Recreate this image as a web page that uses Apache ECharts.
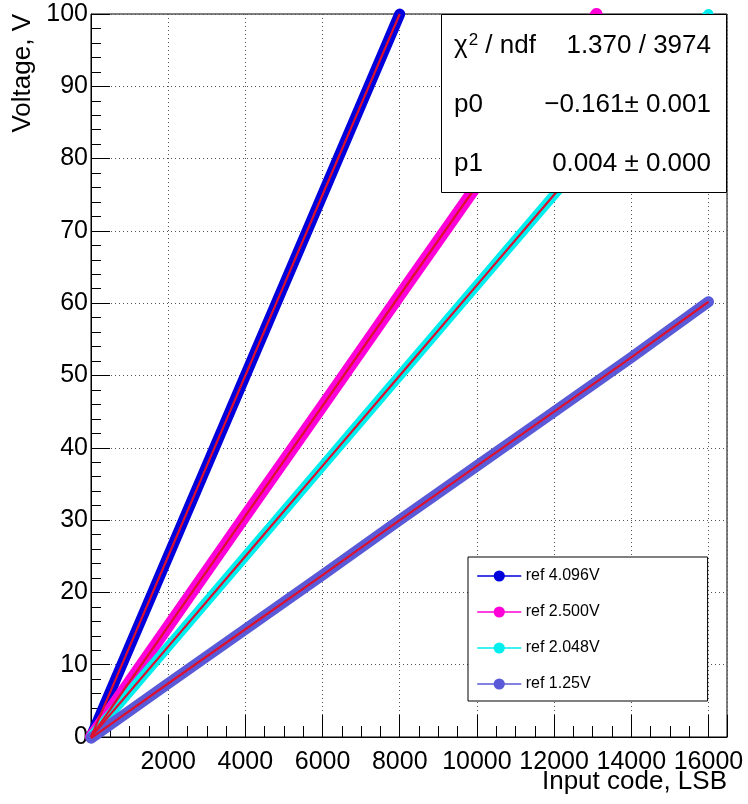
<!DOCTYPE html>
<html>
<head>
<meta charset="utf-8">
<script src="https://cdn.jsdelivr.net/npm/echarts@6/dist/echarts.min.js"></script>
<style>html,body{margin:0;padding:0;background:#fff;}#c{width:748px;height:804px;}</style>
</head>
<body>
<div id="c"></div>
<script>
// ---- data ----
const seriesNames = ['ref 4.096V', 'ref 2.500V', 'ref 2.048V', 'ref 1.25V'];
const codes4096 = [0, 1000, 2000, 3000, 4000, 5000, 6000, 7000, 8000];
const volts4096 = [0.0, 12.5, 25.0, 37.5, 50.0, 62.5, 75.0, 87.5, 100.0];
const codes2500 = [0, 2000, 4000, 6000, 8000, 10000, 12000, 13100];
const volts2500 = [0.0, 15.3, 30.6, 45.8, 61.1, 76.3, 91.6, 100.0];
const codes2048 = [0, 2000, 4000, 6000, 8000, 10000, 12000, 14000, 16000];
const volts2048 = [0.0, 12.5, 25.0, 37.5, 50.0, 62.5, 75.0, 87.5, 100.0];
const codes125 = [0, 2000, 4000, 6000, 8000, 10000, 12000, 14000, 16000];
const volts125 = [-0.16, 7.4, 14.9, 22.4, 30.0, 37.5, 45.0, 52.5, 60.2];
const xTickLabels = ['2000', '4000', '6000', '8000', '10000', '12000', '14000', '16000'];
const yTickLabels = ['0', '10', '20', '30', '40', '50', '60', '70', '80', '90', '100'];
const statLabels = ['{a|\u03c7}{b|2}{a| / ndf}', '{a|p0}', '{a|p1}'];
const statValues = ['1.370 / 3974', '\u22120.161\u00b1 0.001', '0.004 \u00b1 0.000'];
const xTitle = 'Input code, LSB';
const yTitle = 'Voltage, V';

const colors = ['#0000dd', '#ff00d8', '#00eeee', '#5a5ad8'];
const fitColor = '#dd1030';
const FONT = '"Liberation Sans", Arial, sans-serif';

const pairs = (xs, ys) => xs.map((x, i) => [x, ys[i]]);
const allData = [
  pairs(codes4096, volts4096),
  pairs(codes2500, volts2500),
  pairs(codes2048, volts2048),
  pairs(codes125, volts125)
];
const bandWidths = [11, 12, 10, 11];

const series = [];
allData.forEach((d, i) => {
  series.push({
    name: seriesNames[i], type: 'line', data: d, xAxisIndex: 0, yAxisIndex: 0,
    symbol: 'circle', symbolSize: 11, showSymbol: false, clip: false,
    lineStyle: { color: colors[i], width: bandWidths[i], cap: 'round', join: 'round' },
    itemStyle: { color: colors[i] }, z: 2 + i * 0.01, silent: true, animation: false
  });
});
allData.forEach((d, i) => {
  series.push({
    name: 'fit' + i, type: 'line', data: d, xAxisIndex: 0, yAxisIndex: 0,
    symbol: 'none', clip: false,
    lineStyle: { color: fitColor, width: 2.2 }, z: 3, silent: true, animation: false
  });
});

const chart = echarts.init(document.getElementById('c'), null, { renderer: 'canvas' });
const XMAX = 16480;
chart.setOption({
  animation: false,
  backgroundColor: '#fff',
  textStyle: { fontFamily: FONT },
  grid: { left: 91, right: 21, top: 14, bottom: 67, show: true, borderColor: '#000', borderWidth: 1, backgroundColor: 'transparent' },
  xAxis: [{
    type: 'value', min: 0, max: XMAX, interval: 2000, position: 'bottom',
    axisLine: { show: true, lineStyle: { color: '#000', width: 1 } },
    axisTick: { show: true, inside: true, length: 22, lineStyle: { color: '#000', width: 1 } },
    axisLabel: {
      show: true, margin: 13, fontSize: 25, color: '#000', fontFamily: FONT,
      formatter: v => { const s = String(v); return xTickLabels.indexOf(s) >= 0 ? s : ''; }
    },
    splitLine: { show: true, lineStyle: { color: '#555', type: [1, 3], width: 1 } }
  }, {
    type: 'value', min: 0, max: XMAX, interval: 500, position: 'bottom', gridIndex: 0,
    axisLine: { show: false }, axisLabel: { show: false }, splitLine: { show: false },
    axisTick: { show: true, inside: true, length: 11, lineStyle: { color: '#000', width: 1 } }
  }],
  yAxis: [{
    type: 'value', min: 0, max: 100, interval: 10,
    axisLine: { show: true, lineStyle: { color: '#000', width: 1 } },
    axisTick: { show: true, inside: true, length: 19, lineStyle: { color: '#000', width: 1 } },
    minorTick: { show: true, splitNumber: 5, length: 10, lineStyle: { color: '#000', width: 1 } },
    axisLabel: {
      show: true, margin: 3, fontSize: 25, color: '#000', fontFamily: FONT,
      formatter: v => { const s = String(v); return yTickLabels.indexOf(s) >= 0 ? s : ''; }
    },
    splitLine: { show: true, lineStyle: { color: '#555', type: [1, 3], width: 1 } }
  }],
  legend: {
    data: seriesNames, orient: 'vertical', left: 468, top: 557,
    padding: [11, 108, 9, 9], itemWidth: 43, itemHeight: 14, itemGap: 20,
    backgroundColor: '#fff', borderColor: '#000', borderWidth: 1, borderRadius: 0,
    lineStyle: { width: 1.5 },
    textStyle: { fontSize: 16, color: '#000', fontFamily: FONT, lineHeight: 14 },
    selectedMode: false, z: 10
  },
  graphic: [
    { type: 'rect', z: 100, shape: { x: 441.5, y: 14.5, width: 285, height: 178 },
      style: { fill: '#fff', stroke: '#000', lineWidth: 1 } },
    ...statLabels.flatMap((lab, i) => [
      { type: 'text', z: 101, x: 454, y: 46 + i * 59,
        style: { text: lab, fill: '#000', align: 'left', verticalAlign: 'middle',
          rich: {
            a: { fontSize: 26, fontFamily: FONT, color: '#000', lineHeight: 30 },
            b: { fontSize: 17, fontFamily: FONT, color: '#000', lineHeight: 30, padding: [0, 0, 12, 1] }
          } } },
      { type: 'text', z: 101, x: 711, y: 46 + i * 59,
        style: { text: statValues[i], fill: '#000', font: '26px ' + FONT, align: 'right', verticalAlign: 'middle' } }
    ]),
    { type: 'text', z: 101, x: 727, y: 782,
      style: { text: xTitle, fill: '#000', font: '26px ' + FONT, align: 'right', verticalAlign: 'middle' } },
    { type: 'text', z: 101, x: 23, y: 14, rotation: Math.PI / 2,
      style: { text: yTitle, fill: '#000', font: '26px ' + FONT, align: 'right', verticalAlign: 'middle' } }
  ],
  series: series
});
</script>
</body>
</html>
